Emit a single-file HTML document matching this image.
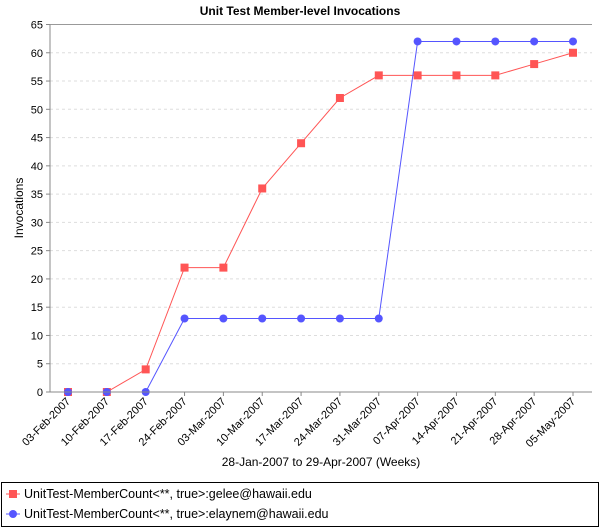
<!DOCTYPE html>
<html><head><meta charset="utf-8"><style>body{margin:0;background:#fff}svg{display:block;font-family:"Liberation Sans",sans-serif}</style></head>
<body>
<svg id="c" width="600" height="528">
<text x="300" y="15" text-anchor="middle" font-size="12" font-weight="bold">Unit Test Member-level Invocations</text>
<g id="grid"></g><g id="yt"></g><g id="xt"></g><g id="ser"></g>
<line x1="50" y1="24.5" x2="50" y2="392" stroke="#888"/>
<line x1="50" y1="392" x2="592" y2="392" stroke="#888"/>
<text transform="translate(23,208) rotate(-90)" text-anchor="middle" font-size="12">Invocations</text>
<text x="321" y="466" text-anchor="middle" font-size="12">28-Jan-2007 to 29-Apr-2007 (Weeks)</text>
<rect x="1.5" y="482.5" width="597" height="44" fill="none" stroke="#000"/>
<g><line x1="6" y1="494" x2="20" y2="494" stroke="#ff5555"/><rect x="9" y="490" width="8" height="8" fill="#ff5555"/><text x="24" y="498" font-size="12.5">UnitTest-MemberCount&lt;**, true&gt;:gelee@hawaii.edu</text></g>
<g><line x1="6" y1="514" x2="20" y2="514" stroke="#5555ff"/><circle cx="13" cy="514" r="4" fill="#5555ff"/><text x="24" y="518" font-size="12.5">UnitTest-MemberCount&lt;**, true&gt;:elaynem@hawaii.edu</text></g>
</svg>
<script>
const categories=["03-Feb-2007","10-Feb-2007","17-Feb-2007","24-Feb-2007","03-Mar-2007","10-Mar-2007","17-Mar-2007","24-Mar-2007","31-Mar-2007","07-Apr-2007","14-Apr-2007","21-Apr-2007","28-Apr-2007","05-May-2007"];
const geleeValues=[0,0,4,22,22,36,44,52,56,56,56,56,58,60];
const elaynemValues=[0,0,0,13,13,13,13,13,13,62,62,62,62,62];
const yTicks=[0,5,10,15,20,25,30,35,40,45,50,55,60,65];
const NS="http://www.w3.org/2000/svg";
function y(v){return 392-v*(392-24.5)/65;}
function x(i){return 68+i*(573-68)/13;}
function mk(t,a,p){const e=document.createElementNS(NS,t);for(const k in a)e.setAttribute(k,a[k]);p.appendChild(e);return e;}
const grid=document.getElementById('grid'),yt=document.getElementById('yt'),xt=document.getElementById('xt'),ser=document.getElementById('ser');
yTicks.forEach(v=>{
 if(v>0){const g=mk('line',{x1:50,x2:592,y1:y(v),y2:y(v),stroke:v==65?'#999':'#ddd','stroke-dasharray':v==65?'':'3,3'},grid);
 
 }
 mk('line',{x1:46,x2:50,y1:y(v),y2:y(v),stroke:'#888'},yt);
 const t=mk('text',{x:43,y:y(v)+4,'text-anchor':'end','font-size':11},yt);t.textContent=v;
 
 
});
categories.forEach((c,i)=>{
 mk('line',{x1:x(i),x2:x(i),y1:392,y2:396,stroke:'#888'},xt);
 const t=mk('text',{transform:`translate(${x(i)+3},${402}) rotate(-45)`,'text-anchor':'end','font-size':11},xt);t.textContent=c;
 
 
});
function series(vals,col,sq,name){
 const p=mk('polyline',{points:vals.map((v,i)=>x(i)+','+y(v)).join(' '),fill:'none',stroke:col},ser);
 
 
 vals.forEach((v,i)=>{
  const m=sq?mk('rect',{x:x(i)-4,y:y(v)-4,width:8,height:8,fill:col},ser):mk('circle',{cx:x(i),cy:y(v),r:4,fill:col},ser);
  
  
 });
}
series(geleeValues,'#ff5555',true,'gelee');
series(elaynemValues,'#5555ff',false,'elaynem');
</script>
</body></html>
